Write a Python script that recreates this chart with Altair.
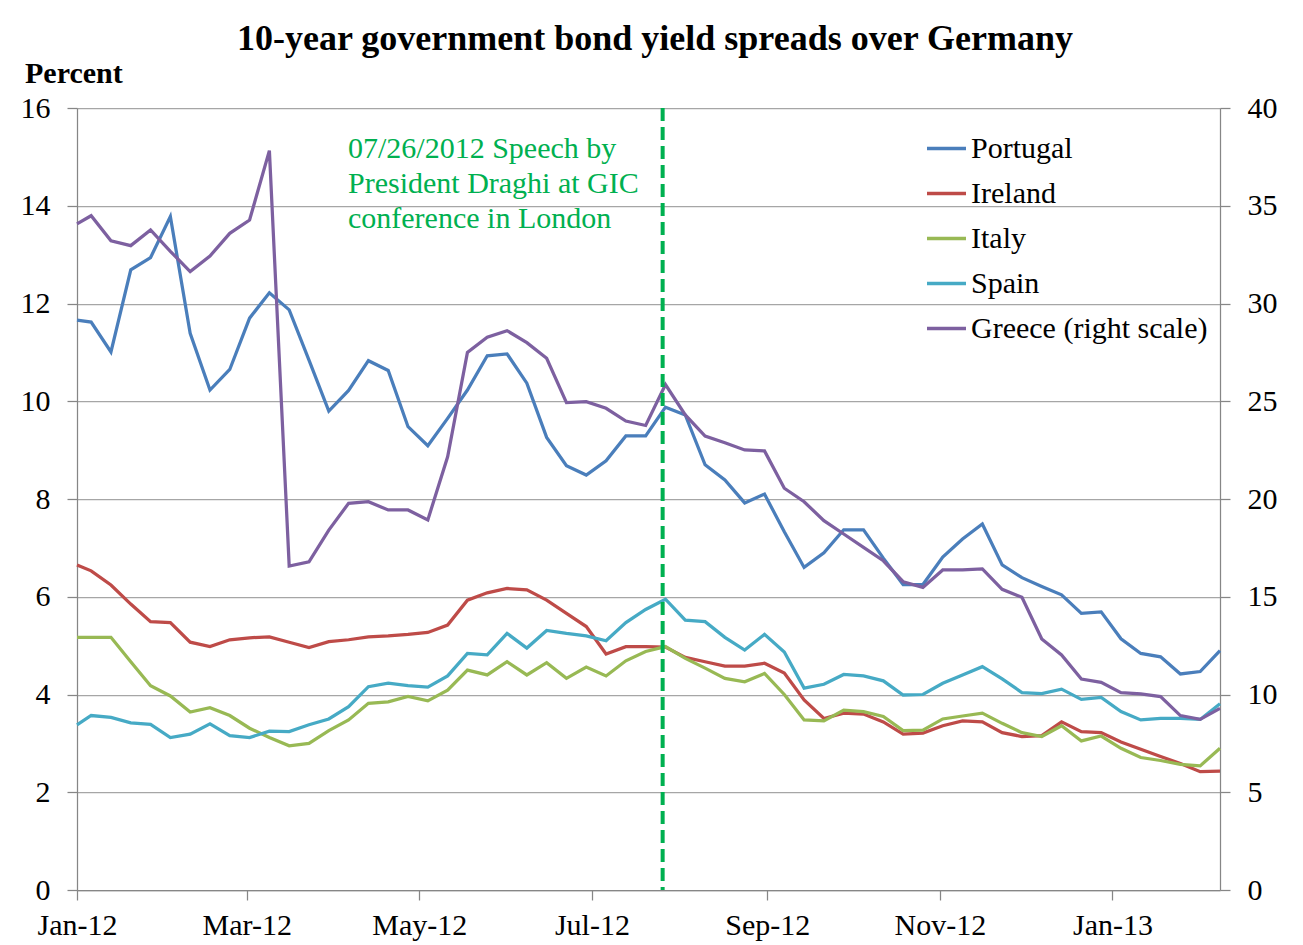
import altair as alt
import pandas as pd

# ---------------- data ----------------
first_date = ["2012-01-01"]
weekly_dates = [d.strftime("%Y-%m-%d") for d in pd.date_range("2012-01-06", periods=58, freq="7D")]
dates = first_date + weekly_dates

portugal = [11.66, 11.62, 11.01, 12.69, 12.94, 13.78, 11.39, 10.23, 10.65, 11.70,
            12.22, 11.87, 10.84, 9.80, 10.22, 10.83, 10.63, 9.48, 9.09, 9.65,
            10.23, 10.93, 10.97, 10.37, 9.26, 8.68, 8.49, 8.78, 9.29, 9.29,
            9.88, 9.72, 8.70, 8.39, 7.92, 8.10, 7.33, 6.60, 6.90, 7.37,
            7.37, 6.79, 6.25, 6.25, 6.81, 7.18, 7.49, 6.65, 6.39, 6.21,
            6.04, 5.66, 5.69, 5.14, 4.84, 4.77, 4.42, 4.47, 4.90]
ireland = [6.65, 6.53, 6.24, 5.85, 5.49, 5.47, 5.07, 4.98, 5.12, 5.16,
           5.18, 5.07, 4.96, 5.08, 5.12, 5.18, 5.20, 5.23, 5.27, 5.42,
           5.93, 6.08, 6.17, 6.14, 5.93, 5.66, 5.39, 4.83, 4.98, 4.98,
           4.97, 4.76, 4.67, 4.58, 4.58, 4.64, 4.44, 3.89, 3.51, 3.62,
           3.60, 3.44, 3.19, 3.21, 3.36, 3.46, 3.44, 3.22, 3.14, 3.16,
           3.44, 3.24, 3.22, 3.03, 2.88, 2.73, 2.59, 2.42, 2.43]
italy = [5.17, 5.17, 5.17, 4.67, 4.18, 3.97, 3.64, 3.73, 3.57, 3.31,
         3.12, 2.95, 3.00, 3.26, 3.48, 3.82, 3.85, 3.96, 3.87, 4.09,
         4.50, 4.40, 4.67, 4.40, 4.65, 4.33, 4.56, 4.38, 4.69, 4.88,
         4.98, 4.74, 4.54, 4.33, 4.26, 4.43, 4.00, 3.48, 3.46, 3.68,
         3.65, 3.55, 3.26, 3.27, 3.50, 3.56, 3.62, 3.41, 3.22, 3.14,
         3.36, 3.05, 3.15, 2.90, 2.71, 2.65, 2.57, 2.54, 2.90]
spain = [3.38, 3.57, 3.53, 3.42, 3.39, 3.12, 3.19, 3.40, 3.16, 3.12,
         3.25, 3.24, 3.38, 3.50, 3.75, 4.16, 4.23, 4.18, 4.15, 4.38,
         4.84, 4.81, 5.25, 4.95, 5.31, 5.25, 5.20, 5.10, 5.47, 5.74,
         5.95, 5.52, 5.49, 5.17, 4.91, 5.23, 4.87, 4.13, 4.21, 4.41,
         4.38, 4.28, 3.99, 4.00, 4.23, 4.40, 4.57, 4.32, 4.04, 4.02,
         4.11, 3.90, 3.94, 3.65, 3.48, 3.51, 3.51, 3.49, 3.81]
greece = [34.07, 34.49, 33.21, 32.96, 33.76, 32.67, 31.63, 32.43, 33.59, 34.27,
          37.82, 16.57, 16.79, 18.41, 19.78, 19.86, 19.44, 19.44, 18.93, 22.16,
          27.50, 28.27, 28.61, 28.00, 27.20, 24.93, 24.98, 24.64, 23.99, 23.76,
          25.85, 24.30, 23.22, 22.88, 22.51, 22.46, 20.55, 19.86, 18.89, 18.21,
          17.53, 16.84, 15.77, 15.48, 16.37, 16.37, 16.42, 15.38, 14.97, 12.84,
          12.02, 10.79, 10.62, 10.09, 10.03, 9.89, 8.92, 8.73, 9.29]

series_names = ["Portugal", "Ireland", "Italy", "Spain", "Greece (right scale)"]
series_colors = ["#4A7EBB", "#BE4B48", "#98B954", "#46AAC5", "#7D60A0"]

x_tick_dates = ["2012-01-01", "2012-03-01", "2012-05-01", "2012-07-01",
                "2012-09-01", "2012-11-01", "2013-01-01"]
x_domain = ["2012-01-01", "2013-02-08"]
left_ticks = [0, 2, 4, 6, 8, 10, 12, 14, 16]
right_ticks = [0, 5, 10, 15, 20, 25, 30, 35, 40]

event_date = ["2012-07-26"]
event_text = ["07/26/2012 Speech by", "President Draghi at GIC", "conference in London"]
title_text = "10-year government bond yield spreads over Germany"
ylabel_text = "Percent"

# ---------------- build tables ----------------
def local(d):
    return d + "T00:00:00"

left_rows = []
for name, vals in zip(series_names[:4], [portugal, ireland, italy, spain]):
    for d, v in zip(dates, vals):
        left_rows.append({"date": local(d), "value": v, "series": name})
left_df = pd.DataFrame(left_rows)
right_df = pd.DataFrame({"date": [local(d) for d in dates], "value": greece,
                         "series": series_names[4]})
event_df = pd.DataFrame({"date": [local(d) for d in event_date]})

FONT = "Liberation Serif"
GRID = "#a6a6a6"
AXC = "#868686"

x_enc = alt.X("date:T",
              scale=alt.Scale(domain=[local(d) for d in x_domain], nice=False),
              axis=alt.Axis(values=[alt.DateTime(year=int(d[:4]), month=int(d[5:7]), date=1)
                                    for d in x_tick_dates],
                            format="%b-%y", title=None, grid=False,
                            tickSize=10, tickWidth=1.25, tickColor=AXC,
                            domainColor=AXC, domainWidth=1.25,
                            labelFont=FONT, labelFontSize=30, labelColor="black",
                            labelPadding=10, labelOverlap=False, labelFlush=False))

color_enc = alt.Color("series:N",
                      scale=alt.Scale(domain=series_names, range=series_colors),
                      legend=alt.Legend(title=None, orient="none", legendX=848, legendY=19,
                                        symbolType="stroke", symbolStrokeWidth=3.5,
                                        symbolSize=1521, labelFont=FONT, labelFontSize=30,
                                        labelColor="black", labelLimit=500, labelOffset=3,
                                        rowPadding=8))

left_lines = alt.Chart(left_df).mark_line(strokeWidth=3.25).encode(
    x=x_enc,
    y=alt.Y("value:Q", scale=alt.Scale(domain=[0, 16], nice=False),
            axis=alt.Axis(values=left_ticks, orient="left", title=None, grid=True,
                          gridColor=GRID, gridWidth=1.25,
                          tickSize=10, tickWidth=1.25, tickColor=AXC,
                          domainColor=AXC, domainWidth=1.25,
                          labelFont=FONT, labelFontSize=30, labelColor="black",
                          labelPadding=17)),
    color=color_enc,
    detail="series:N",
)

right_line = alt.Chart(right_df).mark_line(strokeWidth=3.25).encode(
    x=x_enc,
    y=alt.Y("value:Q", scale=alt.Scale(domain=[0, 40], nice=False),
            axis=alt.Axis(values=right_ticks, orient="right", title=None, grid=False,
                          tickSize=10, tickWidth=1.25, tickColor=AXC,
                          domainColor=AXC, domainWidth=1.25,
                          labelFont=FONT, labelFontSize=30, labelColor="black",
                          labelPadding=17)),
    color=color_enc,
)

event_rule = alt.Chart(event_df).mark_rule(color="#00B050", strokeWidth=4,
                                           strokeDash=[13, 6]).encode(x=x_enc)

annot = alt.Chart(pd.DataFrame({"a": [0]})).mark_text(
    text=event_text, font=FONT, fontSize=30, color="#00B050",
    align="left", baseline="alphabetic", lineHeight=35
).encode(x=alt.value(271), y=alt.value(50))

title = alt.Chart(pd.DataFrame({"a": [0]})).mark_text(
    text=title_text, font=FONT, fontSize=36, fontWeight="bold", color="black",
    align="center", baseline="alphabetic"
).encode(x=alt.value(578), y=alt.value(-58))

ylabel = alt.Chart(pd.DataFrame({"a": [0]})).mark_text(
    text=ylabel_text, font=FONT, fontSize=30, fontWeight="bold", color="black",
    align="left", baseline="alphabetic"
).encode(x=alt.value(-52), y=alt.value(-25))

chart = alt.layer(left_lines, right_line, event_rule, annot, title, ylabel).resolve_scale(
    y="independent"
).properties(
    width=1143, height=782,
    autosize=alt.AutoSizeParams(type="none"),
    padding={"left": 69, "top": 100, "right": 75, "bottom": 55},
).configure_view(strokeWidth=0).configure(background="white")

chart.save("out.html", embed_options={"renderer": "svg", "actions": False})
